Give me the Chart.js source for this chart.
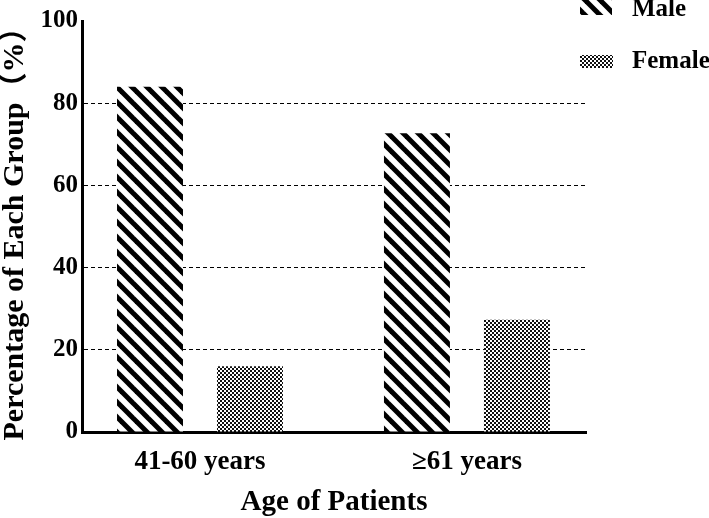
<!DOCTYPE html>
<html><head><meta charset="utf-8">
<script src="https://cdn.jsdelivr.net/npm/chart.js@4/dist/chart.umd.min.js"></script>
<style>html,body{margin:0;padding:0;background:#fff}#wrap{width:709px;height:518px}</style>
</head><body><div id="wrap"><canvas id="c" width="709" height="518"></canvas></div>
<script>
// ---- data ----
const categories = ['41-60 years', '≥61 years'];
const categoryPositions = [1, 2];
const seriesNames = ['Male', 'Female'];
const maleValues = [84.0, 72.7];
const femaleValues = [16.0, 27.3];
const yTicks = [0, 20, 40, 60, 80, 100];

const FONT = "'Liberation Serif', 'Noto Sans CJK SC', serif";

function stripePattern() {
  const s = 15, c = document.createElement('canvas');
  c.width = s; c.height = s;
  const g = c.getContext('2d');
  g.fillStyle = '#fff'; g.fillRect(0, 0, s, s);
  g.strokeStyle = '#000'; g.lineWidth = 5;
  [[0, 0], [s, 0], [-s, 0]].forEach(([ox]) => {
    g.beginPath(); g.moveTo(ox - 5, -5); g.lineTo(ox + s + 5, s + 5); g.stroke();
  });
  return g.createPattern(c, 'repeat');
}
function checkerPattern() {
  const c = document.createElement('canvas');
  c.width = 4; c.height = 4;
  const g = c.getContext('2d');
  g.fillStyle = '#fff'; g.fillRect(0, 0, 4, 4);
  g.fillStyle = '#111';
  g.fillRect(0, 0, 2, 2); g.fillRect(2, 2, 2, 2);
  return g.createPattern(c, 'repeat');
}
const maleFill = stripePattern();
const femaleFill = checkerPattern();

const legendPlugin = {
  id: 'customLegend',
  afterDraw(chart) {
    const ctx = chart.ctx;
    const items = [
      {rect: [580, -1, 32, 16], ty: 10},
      {rect: [580, 55, 33, 13], ty: 62}
    ];
    chart.data.datasets.forEach((ds, i) => {
      const it = items[i];
      ctx.save();
      ctx.fillStyle = ds.backgroundColor;
      ctx.fillRect(...it.rect);
      ctx.fillStyle = '#000';
      ctx.font = 'bold 25px ' + FONT;
      ctx.textBaseline = 'middle';
      ctx.textAlign = 'left';
      ctx.fillText(ds.label, 632, it.ty);
      ctx.restore();
    });
  }
};

new Chart(document.getElementById('c'), {
  type: 'bar',
  data: {
    datasets: [
      {label: seriesNames[0], data: categoryPositions.map((x, i) => ({x, y: maleValues[i]})),
       backgroundColor: maleFill, borderWidth: 0},
      {label: seriesNames[1], data: categoryPositions.map((x, i) => ({x, y: femaleValues[i]})),
       backgroundColor: femaleFill, borderWidth: 0}
    ]
  },
  options: {
    responsive: false,
    devicePixelRatio: 1,
    animation: false,
    categoryPercentage: 0.749,
    barPercentage: 0.66,
    layout: {padding: {top: 21, right: 123, bottom: 0, left: 0}},
    plugins: {legend: {display: false}, tooltip: {enabled: false}},
    scales: {
      x: {
        type: 'linear',
        min: 0.558, max: 2.446,
        offset: false,
        afterBuildTicks: (s) => { s.ticks = categoryPositions.map(v => ({value: v})); },
        afterFit: (s) => { s.height = 86; },
        grid: {display: false, drawTicks: false},
        border: {display: true, color: '#000', width: 3},
        ticks: {
          autoSkip: false, maxRotation: 0, padding: 14, color: '#000',
          font: {family: FONT, size: 27, weight: 'bold'},
          callback: (v) => categories[categoryPositions.indexOf(v)] ?? ''
        },
        title: {display: true, text: 'Age of Patients', color: '#000',
          font: {family: FONT, size: 29, weight: 'bold', lineHeight: 1.0}, padding: {top: 0, bottom: 1}}
      },
      y: {
        min: 0, max: 100,
        afterBuildTicks: (s) => { s.ticks = yTicks.map(v => ({value: v})); },
        afterFit: (s) => { s.width = 82; },
        grid: {drawTicks: false, lineWidth: 1,
          color: (ctx) => (ctx.tick && (ctx.tick.value === 0 || ctx.tick.value === 100)) ? 'rgba(0,0,0,0)' : '#000'},
        border: {display: true, color: '#000', width: 3, dash: [4, 3]},
        ticks: {padding: 4, color: '#000', font: {family: FONT, size: 25, weight: 'bold'}},
        title: {display: true, text: 'Percentage of Each Group（%）', color: '#000',
          font: {family: FONT, size: 30, weight: 'bold', lineHeight: 1.0}, padding: {top: 0, bottom: 0}}
      }
    }
  },
  plugins: [legendPlugin]
});
</script></body></html>
